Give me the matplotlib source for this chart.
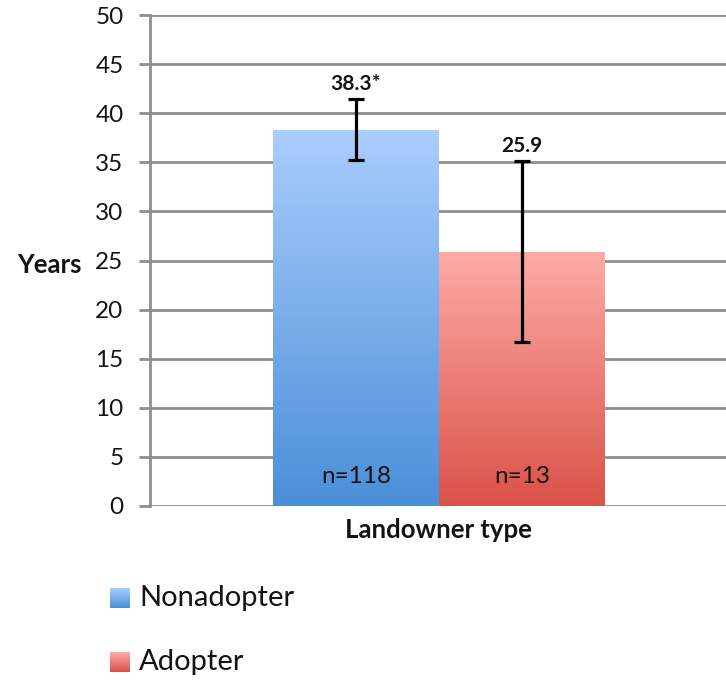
import numpy as np
import matplotlib.pyplot as plt
from matplotlib.colors import LinearSegmentedColormap

# Data
groups = ["Nonadopter", "Adopter"]
means = [38.3, 25.9]
errors = [3.1, 9.2]
value_labels = ["38.3*", "25.9"]
n_labels = ["n=118", "n=13"]
y_ticks = [0, 5, 10, 15, 20, 25, 30, 35, 40, 45, 50]

# gradient colours (top, bottom)
grad_colors = [("#aacdfd", "#4b8fd8"), ("#fdaba7", "#da5248")]

plt.rcParams['font.family'] = ['Lato', 'DejaVu Sans']

fig = plt.figure(figsize=(7.26, 6.82), dpi=100)
ax = fig.add_axes([150 / 726, 176 / 682, 576 / 726, 491 / 682])

positions = [-0.5, 0.5]
grid_color = "#8e8e8e"
text_color = "#141414"

for yt in y_ticks:
    ax.axhline(yt, color=grid_color, lw=2.0, zorder=1)

bars = ax.bar(positions, means, width=1.0, color="none", zorder=2)
for bar, (top, bottom) in zip(bars, grad_colors):
    cmap = LinearSegmentedColormap.from_list("g", [bottom, top])
    x0, y0 = bar.get_x(), bar.get_y()
    w, h = bar.get_width(), bar.get_height()
    grad = np.linspace(0, 1, 256).reshape(-1, 1)
    im = ax.imshow(grad, cmap=cmap, origin="lower", aspect="auto",
                   extent=[x0, x0 + w, y0, y0 + h], zorder=2)
    im.set_clip_path(bar)

ax.errorbar(positions, means, yerr=errors, fmt="none", ecolor="black",
            elinewidth=2.3, capsize=6, capthick=2.3, zorder=4)

for x, m, e, lab in zip(positions, means, errors, value_labels):
    ax.annotate(lab, (x, m + e), xytext=(0, 4), textcoords="offset points",
                ha="center", va="bottom", fontsize=15, fontweight="bold",
                color=text_color)

for x, lab in zip(positions, n_labels):
    ax.text(x, 3.0, lab, ha="center", va="center", fontsize=17.5,
            color=text_color, zorder=5)

ax.set_xlim(-1.74, 1.73)
ax.set_ylim(0, 50)
ax.set_yticks(y_ticks)
ax.set_xticks([])
ax.tick_params(axis="y", length=8, width=2, color=grid_color, labelsize=17.5,
               labelcolor=text_color, pad=11)
for s in ["top", "right", "bottom"]:
    ax.spines[s].set_visible(False)
ax.spines["left"].set_color(grid_color)
ax.spines["left"].set_linewidth(2)

ax.set_ylabel("Years", rotation=0, fontsize=18.5, fontweight="bold",
              ha="right", va="center", color=text_color)
ax.yaxis.set_label_coords(-0.118, 0.49)
ax.set_xlabel("Landowner type", fontsize=18.5, fontweight="bold",
              va="top", color=text_color)
ax.xaxis.set_label_coords(0.5, -0.025)

# legend with gradient squares
legend_y = [598, 662]
for name, (top, bottom), yc in zip(groups, grad_colors, legend_y):
    sq = fig.add_axes([110 / 726, (682 - yc - 10) / 682, 20 / 726, 20 / 682])
    cmap = LinearSegmentedColormap.from_list("g", [bottom, top])
    sq.imshow(np.linspace(0, 1, 64).reshape(-1, 1), cmap=cmap, origin="lower", aspect="auto")
    sq.axis("off")
    fig.text(139 / 726, (682 - yc) / 682, name, fontsize=21, va="center", ha="left",
             color=text_color)

fig.savefig("out.png", dpi=100)
